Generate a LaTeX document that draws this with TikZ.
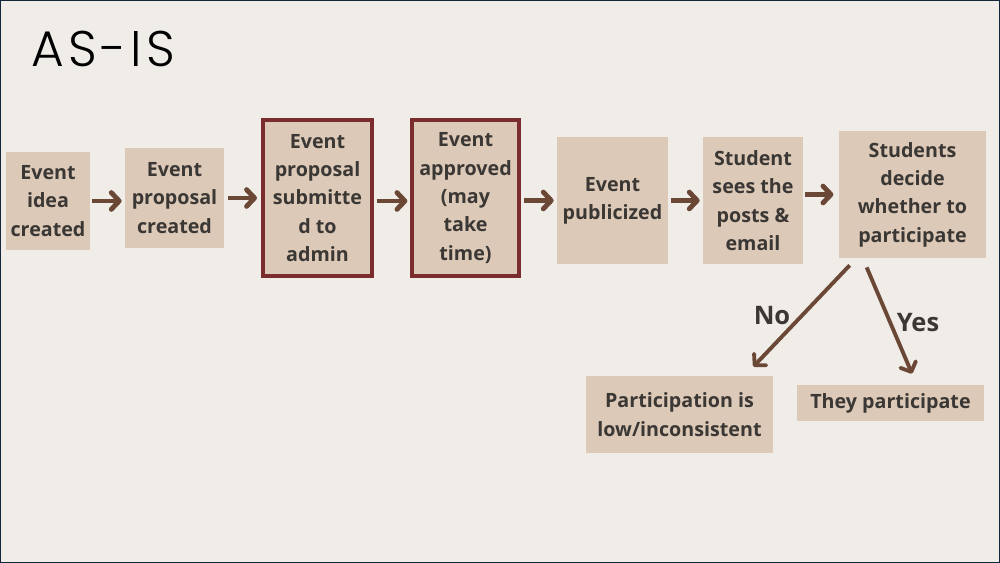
\documentclass[tikz,border=0pt]{standalone}
\usepackage{fontspec}
\setmainfont{Open Sans}
\IfFontExistsTF{Poppins Light}{\newfontfamily\titlefont{Poppins Light}}{\newfontfamily\titlefont{Poppins}}
\usetikzlibrary{arrows.meta,calc}
\definecolor{bgc}{HTML}{F0ECE8}
\definecolor{boxc}{HTML}{DCC9B7}
\definecolor{redc}{HTML}{7B2C2C}
\definecolor{arrc}{HTML}{6B4836}
\definecolor{txtc}{HTML}{3A3734}
\definecolor{framec}{HTML}{14263A}
\tikzset{
  stepbox/.style={fill=boxc, inner sep=0pt, align=center, text=txtc,
    font=\fontsize{11.2}{16.1}\selectfont\bfseries},
  redbox/.style={stepbox, draw=redc, line width=2.3pt},
  harr/.style={draw=arrc, line width=2.8pt, -{Straight Barb[length=4.5pt,width=9.5pt,round]}},
  darr/.style={draw=arrc, line width=2.2pt, -{Straight Barb[length=4.5pt,width=9.5pt,round]}},
  lbl/.style={text=txtc, font=\fontsize{14.5}{16}\selectfont\bfseries, inner sep=0pt}
}
\begin{document}
\begin{tikzpicture}[x=0.02cm, y=-0.02cm]
\fill[bgc] (0,0) rectangle (1000,563);
\useasboundingbox (0,0) rectangle (1000,563);
\draw[framec, line width=1.2pt] (0,0) rectangle (1000,563);
\node[anchor=base west, inner sep=0pt, text=black, font=\fontsize{28.5}{30}\titlefont] (title) at (31,67) {A\kern2.3pt S\kern2.3pt -\kern2.3pt I\kern2.3pt S};

\node[stepbox, minimum width=1.68cm, minimum height=1.96cm] (b1) at (48,201) {Event\\idea\\created};
\node[stepbox, minimum width=1.98cm, minimum height=2.00cm] (b2) at (174.5,198) {Event\\proposal\\created};
\node[redbox, minimum width=2.18cm, minimum height=3.12cm] (b3) at (317.5,198) {Event\\proposal\\submitte\\d to\\admin};
\node[redbox, minimum width=2.14cm, minimum height=3.12cm] (b4) at (465.5,198) {Event\\approved\\(may\\take\\time)};
\node[stepbox, minimum width=2.22cm, minimum height=2.54cm] (b5) at (612.5,200.5) {Event\\publicized};
\node[stepbox, minimum width=2.00cm, minimum height=2.54cm] (b6) at (753,200.5) {Student\\sees the\\posts \&\\email};
\node[stepbox, minimum width=2.94cm, minimum height=2.54cm] (b7) at (912.5,194.5) {Students\\decide\\whether to\\participate};
\node[stepbox, minimum width=3.74cm, minimum height=1.54cm] (b8) at (679.5,414.5) {Participation is\\low/inconsistent};
\node[stepbox, minimum width=3.74cm, minimum height=0.72cm] (b9) at (890.5,403) {They participate};

\draw[harr, shorten <=1.2pt, shorten >=1.7pt] (b1.east) -- (b1.east -| b2.west);
\draw[harr, shorten <=2.3pt, shorten >=2.3pt] (b2.east) -- (b2.east -| b3.west);
\draw[harr, shorten <=1.5pt, shorten >=1.5pt] ([yshift=-0.06cm]b3.east) -- ([yshift=-0.06cm]b3.east -| b4.west);
\draw[harr, shorten <=1.5pt, shorten >=1.7pt] (b4.east |- b5.west) -- (b5.west);
\draw[harr, shorten <=1.7pt, shorten >=1.7pt] (b5.east) -- (b6.west);
\draw[harr, shorten <=1.2pt, shorten >=3pt] (b6.east |- b7.west) -- (b7.west);

\draw[darr] ($(b7.south west)+(11,7)$) -- ($(b8.north east)+(-20,-9)$);
\draw[darr] ($(b7.south west)+(28,9)$) -- ($(b9.north)+(21.5,-11)$);
\node[lbl] (no) at (772,316) {No};
\node[lbl] (yes) at (918,323) {Yes};
\end{tikzpicture}
\end{document}
